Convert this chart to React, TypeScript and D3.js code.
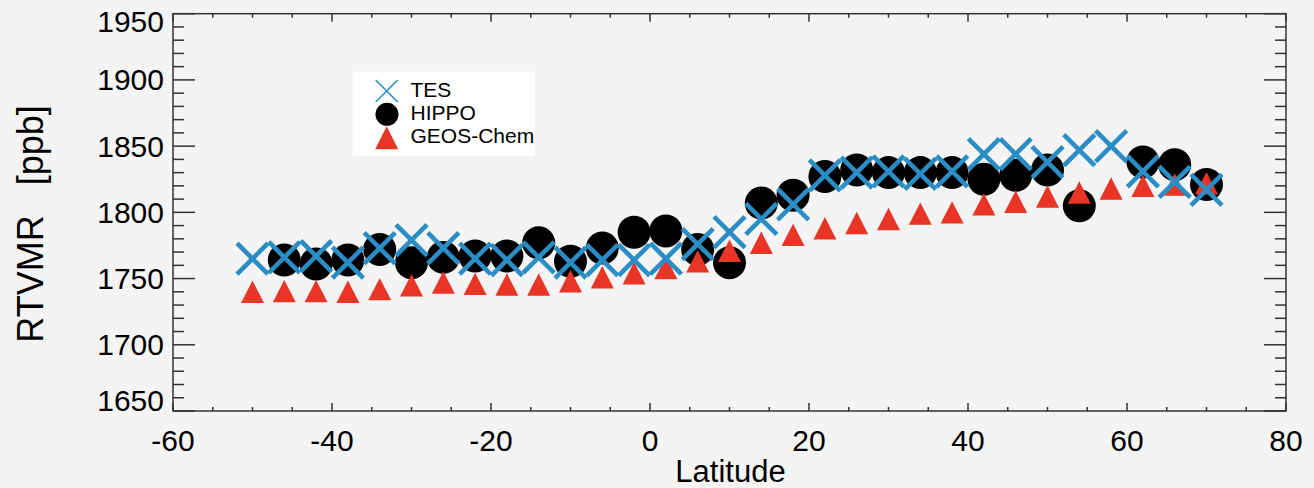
import React from "react";
import * as d3 from "d3";

const tesLat = [-50,-46,-42,-38,-34,-30,-26,-22,-18,-14,-10,-6,-2,2,6,10,14,18,22,26,30,34,38,42,46,50,54,58,62,66,70];
const tesVal = [1765,1766,1767,1762,1773,1779,1773,1765,1764,1766,1762,1764,1764,1765,1776,1785,1795,1806,1828,1830,1831,1829,1831,1844,1844,1838,1847,1850,1831,1823,1817];

const hippoLat = [-46,-42,-38,-34,-30,-26,-22,-18,-14,-10,-6,-2,2,6,10,14,18,22,26,30,34,38,42,46,50,54,62,66,70];
const hippoVal = [1764,1761,1764,1772,1762,1766,1767,1767,1777,1763,1773,1785,1786,1772,1762,1807,1813,1827,1832,1830,1830,1830,1825,1828,1832,1805,1838,1836,1821];

const geosLat = [-50,-46,-42,-38,-34,-30,-26,-22,-18,-14,-10,-6,-2,2,6,10,14,18,22,26,30,34,38,42,46,50,54,58,62,66,70];
const geosVal = [1740,1740.5,1740.5,1740,1742,1745,1747,1746,1745.5,1745.5,1748,1751,1754,1758,1763,1771,1777,1783,1788,1792,1795,1799,1800,1806,1808,1812,1815,1818,1820,1821,1822];

const xMajor = [-60,-40,-20,0,20,40,60,80];
const yMajor = [1650,1700,1750,1800,1850,1900,1950];
const legendLabels = ["TES", "HIPPO", "GEOS-Chem"];

const W = 1314, H = 488;
const L = 173, R = 1286, T = 13.7, B = 411;
const BLUE = "#2a8dc5";
const RED = "#e93526";
const FONT = "'Liberation Sans', Arial, Helvetica, sans-serif";

const x = d3.scaleLinear().domain([-60, 80]).range([L, R]);
const y = d3.scaleLinear().domain([1650, 1950]).range([B, T]);

function tri(cx: number, cy: number, hw: number, hh: number) {
  return `M${cx - hw},${cy + hh}L${cx + hw},${cy + hh}L${cx},${cy - hh}Z`;
}

function XMark({ cx, cy, s, sw }: { cx: number; cy: number; s: number; sw: number }) {
  return (
    <g stroke={BLUE} strokeWidth={sw}>
      <line x1={cx - s} y1={cy - s} x2={cx + s} y2={cy + s} />
      <line x1={cx - s} y1={cy + s} x2={cx + s} y2={cy - s} />
    </g>
  );
}

export default function App() {
  const xMinor = d3.range(-60, 80.1, 5);
  const yMinor = d3.range(1650, 1950.1, 10);
  const axisColor = "#333";
  return (
    <svg width={W} height={H} style={{ position: "absolute", left: 0, top: 0 }} fontFamily={FONT}>
      <rect x={0} y={0} width={W} height={H} fill="#f4f4f4" />
      {/* data */}
      <g>
        {hippoLat.map((la, i) => (
          <circle key={"h" + i} cx={x(la)} cy={y(hippoVal[i])} r={16.5} fill="#000" />
        ))}
        {geosLat.map((la, i) => (
          <path key={"g" + i} d={tri(x(la), y(geosVal[i]), 11.5, 11.2)} fill={RED} />
        ))}
        {tesLat.map((la, i) => (
          <XMark key={"t" + i} cx={x(la)} cy={y(tesVal[i])} s={15.5} sw={4.6} />
        ))}
      </g>
      {/* axes box */}
      <g stroke={axisColor} strokeWidth={1.5} fill="none">
        <rect x={L} y={T} width={R - L} height={B - T} />
        {xMinor.map((v) => {
          const len = xMajor.includes(v) ? 8 : 4;
          return (
            <g key={"xm" + v}>
              <line x1={x(v)} x2={x(v)} y1={B} y2={B - len} />
              <line x1={x(v)} x2={x(v)} y1={T} y2={T + len} />
            </g>
          );
        })}
        {yMinor.map((v) => {
          const len = yMajor.includes(v) ? 22 : 11;
          return (
            <g key={"ym" + v}>
              <line x1={L} x2={L + len} y1={y(v)} y2={y(v)} />
              <line x1={R} x2={R - len} y1={y(v)} y2={y(v)} />
            </g>
          );
        })}
      </g>
      {/* tick labels */}
      <g fontSize={30} fill="#000">
        {xMajor.map((v) => (
          <text key={"xl" + v} x={x(v)} y={450.5} textAnchor="middle">{v}</text>
        ))}
        {yMajor.map((v) => {
          const cy = Math.min(Math.max(y(v), T + 8), B - 11);
          return (
            <text key={"yl" + v} x={164} y={cy + 10.5} textAnchor="end">{v}</text>
          );
        })}
      </g>
      <text x={(L + R) / 2 + 1} y={482} textAnchor="middle" fontSize={31}>Latitude</text>
      <text
        transform={`translate(43,${224}) rotate(-90)`}
        textAnchor="middle"
        fontSize={36}
        style={{ whiteSpace: "pre" }}
      >
        {"RTVMR   [ppb]"}
      </text>
      {/* legend */}
      <rect x={352.7} y={71.7} width={182.3} height={84} fill="#fff" />
      <XMark cx={386.7} cy={91} s={11} sw={1.6} />
      <circle cx={387} cy={114.3} r={11.5} fill="#000" />
      <path d={tri(386.7, 137.7, 11.5, 11.5)} fill={RED} />
      <g fontSize={21} fill="#000">
        <text x={410.5} y={96.7}>{legendLabels[0]}</text>
        <text x={410.5} y={119.5}>{legendLabels[1]}</text>
        <text x={410.5} y={143.3}>{legendLabels[2]}</text>
      </g>
    </svg>
  );
}
